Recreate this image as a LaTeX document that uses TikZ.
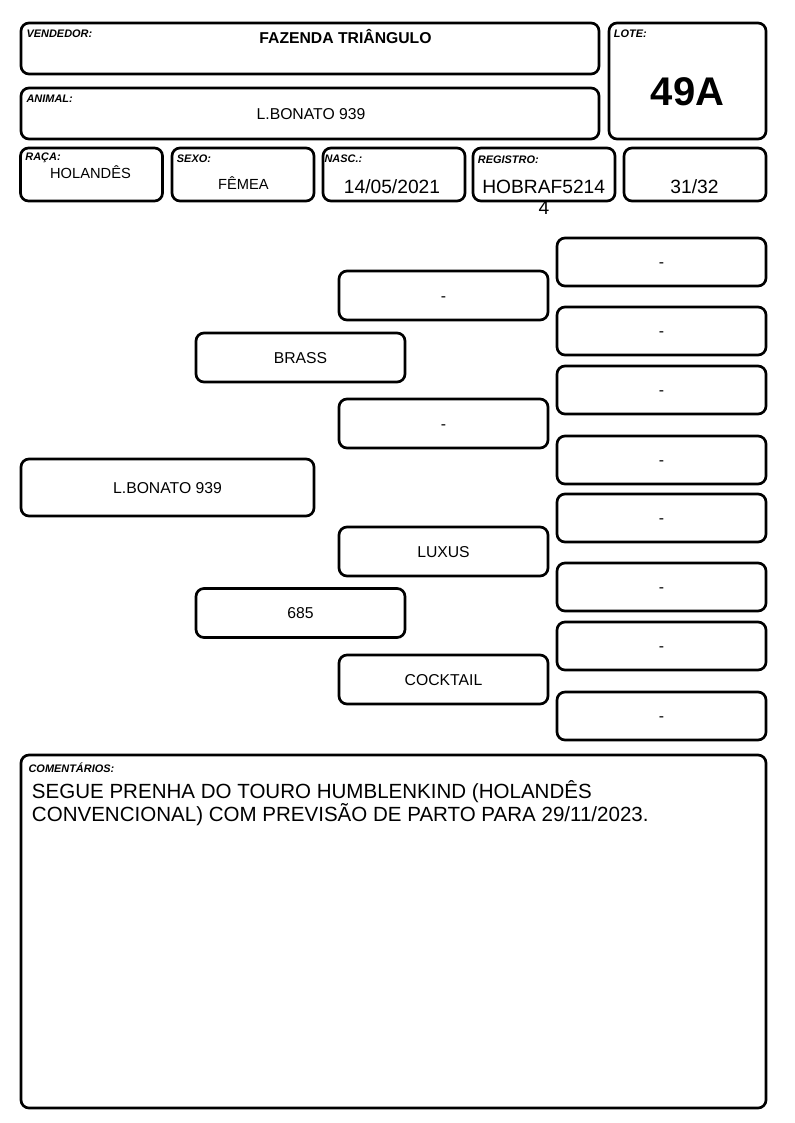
\documentclass[tikz,border=0pt]{standalone}
\usepackage{fontspec}
\setmainfont{Liberation Sans}
\usetikzlibrary{positioning}

\begin{document}
\begin{tikzpicture}[x=0.75pt, y=-0.75pt,
    cell/.style={rectangle,
                 draw=black,
                 line width=2pt,
                 rounded corners=6pt,
                 inner sep=0pt,
                 align=center,
                 text height=8.45pt, text depth=0pt,
                 font=\fontsize{11.8}{14}\selectfont},
    hdr/.style={cell, minimum width=433.5pt, minimum height=38.25pt},
    info/.style={cell, minimum width=106.5pt, minimum height=39.75pt},
    ped/.style={cell, minimum width=156.75pt, minimum height=36.75pt}, % pedigree boxes
    tag/.style={inner sep=0pt, font=\fontsize{8.2}{10}\selectfont\bfseries\itshape},
    val/.style={inner sep=0pt, anchor=base, font=\fontsize{11}{13}\selectfont},
    num/.style={val, font=\fontsize{14.4}{17}\selectfont}]

  \useasboundingbox (0,0) rectangle (794,1123);

  % Header boxes
  \node[hdr] (vend) at (310,48.5) {};
  \node[cell, minimum width=117.75pt, minimum height=87pt] (lote) at (687.5,81) {};
  \node[hdr] (animal) at (310,113.5) {};
  \node[info] (raca) at (91.5,174.5) {};
  \node[info] (sexo) at (243,174.5) {};
  \node[info] (nasc) at (394,174.5) {};
  \node[info] (reg) at (544,174.5) {};
  \node[info] (grau) at (695,174.5) {};

  % Labels in the corners
  \node[tag, below right=6pt and 5pt of vend.north west] {VENDEDOR:};
  \node[tag, below right=6pt and 4.5pt of lote.north west] {LOTE:};
  \node[tag, below right=6pt and 5pt of animal.north west] {ANIMAL:};
  \node[tag, below right=4.5pt and 4.5pt of raca.north west] {RAÇA:};
  \node[tag, below right=6pt and 4.5pt of sexo.north west] {SEXO:};
  \node[tag, below right=6pt and 2pt of nasc.north west] {NASC.:};
  \node[tag, below right=6.5pt and 4.5pt of reg.north west] {REGISTRO:};

  % Values
  \node[val, font=\fontsize{11.8}{14}\selectfont\bfseries] (vendtxt) at (345.5,43.5) {FAZENDA TRIÂNGULO};
  \node[val, font=\fontsize{30}{32}\selectfont\bfseries] (lotetxt) at (687.5,106) {49A};
  \node[val, font=\fontsize{11.8}{14}\selectfont] (animaltxt) at (311,119.5) {L.BONATO 939};
  \node[val] (racatxt) at (90.5,178.3) {HOLANDÊS};
  \node[val] (sexotxt) at (243.3,189.3) {FÊMEA};
  \node[num] (nasctxt) at (392,193.3) {14/05/2021};
  \node[num] (regtxt) at (543.7,193.3) {HOBRAF5214};
  \node[num] (regtxtb) at (544,214.3) {4};
  \node[num] (grautxt) at (694.5,193.3) {31/32};

  % Pedigree
  \node[cell, minimum width=219.75pt, minimum height=42.75pt] (animalped) at (167.5,487.5) {L.BONATO 939};

  \node[ped] (sire) at (300.5,357.5) {BRASS};
  \node[ped] (dam) at (300.5,613) {685};

  \node[ped] (ss) at (443.5,295.5) {-};
  \node[ped] (sd) at (443.5,423.5) {-};
  \node[ped] (ds) at (443.5,551.5) {LUXUS};
  \node[ped] (dd) at (443.5,679.5) {COCKTAIL};

  \node[ped, minimum height=36pt] (sss) at (661.5,262) {-};
  \node[ped, minimum height=36pt] (ssd) at (661.5,331) {-};
  \node[ped, minimum height=36pt] (sds) at (661.5,390) {-};
  \node[ped, minimum height=36pt] (sdd) at (661.5,460) {-};
  \node[ped, minimum height=36pt] (dss) at (661.5,518) {-};
  \node[ped, minimum height=36pt] (dsd) at (661.5,587) {-};
  \node[ped, minimum height=36pt] (dds) at (661.5,646) {-};
  \node[ped, minimum height=36pt] (ddd) at (661.5,716) {-};

  % Comments
  \node[cell, minimum width=558.75pt, minimum height=264.75pt] (coment) at (393.5,931.5) {};
  \node[tag, below right=7pt and 6.5pt of coment.north west] {COMENTÁRIOS:};
  \node[anchor=base west, inner sep=0pt, align=left,
        font=\fontsize{15.4}{17.5}\selectfont] (comtxt) at (31.7,821.7)
        {SEGUE PRENHA DO TOURO HUMBLENKIND (HOLANDÊS\\CONVENCIONAL) COM PREVISÃO DE PARTO PARA 29/11/2023.};

\end{tikzpicture}
\end{document}
